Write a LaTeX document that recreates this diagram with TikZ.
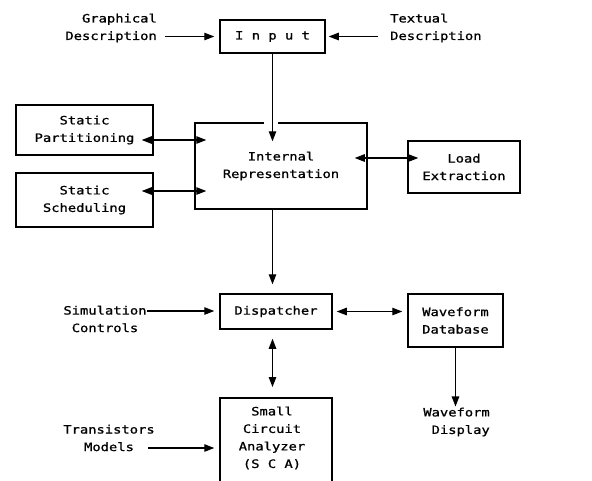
\documentclass[tikz,border=0pt]{standalone}
\usepackage{fontspec}
\setmainfont[FakeStretch=1.2,FakeBold=1]{DejaVu Sans Mono}
\usetikzlibrary{arrows.meta,calc}
\begin{document}
\begin{tikzpicture}[x=1pt,y=-1pt,
  every node/.style={font=\fontsize{11.5}{17.5}\selectfont, inner sep=0pt},
  box/.style={draw, line width=1.5pt},
  arr/.style={line width=1.3pt, -{Triangle[length=10pt,width=7.5pt]}},
  darr/.style={line width=1.3pt, {Triangle[length=10pt,width=7.5pt]}-{Triangle[length=10pt,width=7.5pt]}}]
\clip (0,0) rectangle (592,480);
% boxes
\node[box, minimum width=105pt, minimum height=33pt] (in) at (272.5,36.5) {I n p u t};
\node[box, align=center, minimum width=137pt, minimum height=50pt] (sp) at (84.5,130) {Static\\Partitioning};
\node[box, align=center, minimum width=137pt, minimum height=54pt] (ss) at (84.5,200) {Static\\Scheduling};
\node[box, align=center, minimum width=172pt, minimum height=86pt] (ir) at (281,166) {Internal\\Representation};
\node[box, align=center, minimum width=112pt, minimum height=52pt] (le) at (464,167) {Load\\Extraction};
\node[box, minimum width=112pt, minimum height=35pt] (dp) at (276,311.5) {Dispatcher};
\node[box, align=center, minimum width=95pt, minimum height=53pt] (wf) at (455.5,320.5) {Waveform\\Database};
\node[box, minimum width=112pt, minimum height=110pt, anchor=north] (sca) at (276,397) {};
\node[align=center] (scat) at (272,438) {Small\\Circuit\\Analyzer\\(S C A)};
% labels
\node[align=right, anchor=east] (gd) at (157,28) {Graphical\\Description};
\node[align=left, anchor=west] (td) at (390,28) {Textual\\Description};
\node[align=center] (sc) at (105,319) {Simulation\\Controls};
\node[align=center] (tm) at (109,438) {Transistors\\Models};
\node[align=right, anchor=east] (wd) at (490,422) {Waveform\\Display};
% connectors
\draw[arr, shorten <=8pt, shorten >=5pt] (gd.east |- in) -- (in.west);
\draw[arr, shorten <=12pt, shorten >=3pt] (td.west |- in) -- (in.east);
\coordinate (g) at (in.south |- ir.north);
\draw[white, line width=2.5pt] ($(g)+(-9,0)$) -- ($(g)+(5,0)$);
\draw[arr, shorten >=-19pt] (in.south) -- (g);
\coordinate (a1) at ([yshift=-10pt]sp.east);
\draw[darr, shorten <=-12pt, shorten >=-12pt] (a1) -- (a1 -| ir.west);
\coordinate (a2) at ([yshift=9pt]ss.east);
\draw[darr, shorten <=-12pt, shorten >=-12pt] (a2) -- (a2 -| ir.west);
\coordinate (a3) at ([yshift=8pt]ir.east);
\draw[darr, shorten <=-13pt, shorten >=-11pt] (a3) -- (a3 -| le.west);
\draw[arr, shorten >=9pt] (ir.south -| in.south) -- (dp.north -| in.south);
\coordinate (a4) at ([yshift=8pt]sc.east);
\draw[arr, shorten >=5pt] (a4) -- (a4 -| dp.west);
\draw[darr, shorten <=4pt, shorten >=5pt] (dp.east) -- (dp.east -| wf.west);
\draw[darr, shorten <=9pt, shorten >=10pt] (dp.south -| in.south) -- (sca.north -| in.south);
\draw[arr, shorten >=1pt] (wf.south) -- (wf.south |- wd.north);
\coordinate (a5) at ([yshift=-10pt]tm.east);
\draw[arr, shorten <=-7pt, shorten >=5pt] (a5) -- (a5 -| sca.west);
\end{tikzpicture}
\end{document}
